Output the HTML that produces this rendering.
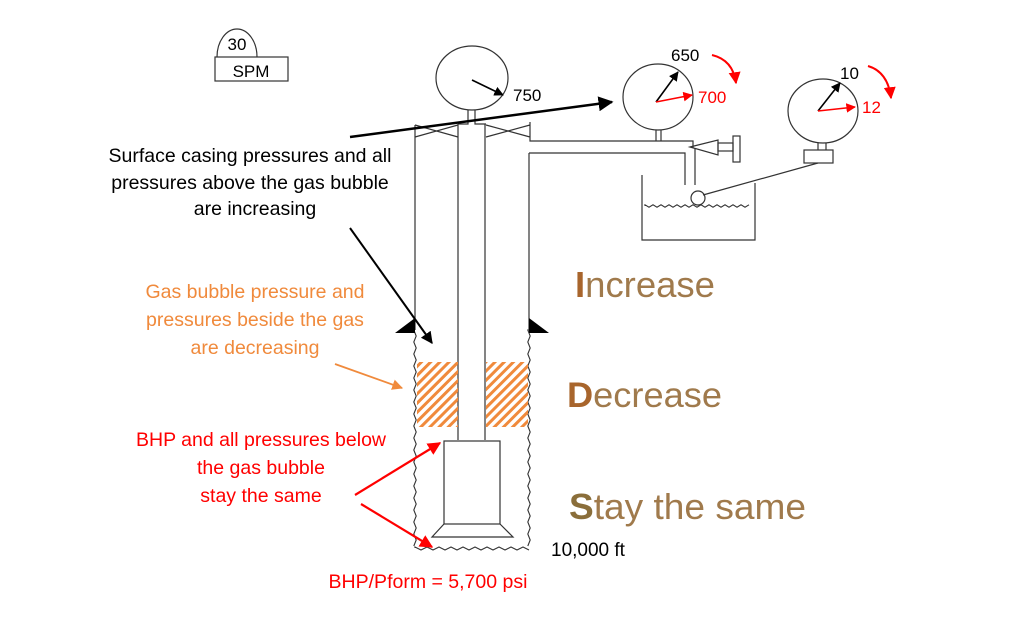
<!DOCTYPE html>
<html><head><meta charset="utf-8"><style>
body{margin:0;background:#fff;width:1020px;height:618px;overflow:hidden}
svg{display:block}
text{font-family:"Liberation Sans",sans-serif}
</style></head><body>
<svg id="s" width="1020" height="618" viewBox="0 0 1020 618" xmlns="http://www.w3.org/2000/svg">
<defs>
<marker id="ab" viewBox="0 0 10 10" refX="9" refY="5" markerWidth="6" markerHeight="6" orient="auto"><path d="M0,0L10,5L0,10z" fill="#000"/></marker>
<marker id="ar" viewBox="0 0 10 10" refX="9" refY="5" markerWidth="6" markerHeight="6" orient="auto"><path d="M0,0L10,5L0,10z" fill="#f00"/></marker>
<marker id="ao" viewBox="0 0 10 10" refX="9" refY="5" markerWidth="6" markerHeight="6" orient="auto"><path d="M0,0L10,5L0,10z" fill="#f08a3c"/></marker>
<pattern id="h" width="6.5" height="6.5" patternUnits="userSpaceOnUse" patternTransform="rotate(45)"><rect width="3" height="6.5" fill="#f08a3c"/></pattern>
</defs>
<g fill="none" stroke="#333" stroke-width="1.2">
<path d="M217,57 A20,28 0 0 1 257,57"/>
<rect x="215" y="57" width="73" height="24"/>
<ellipse cx="472" cy="78" rx="36" ry="32"/>
<path d="M468,110V124H458M475,110V124H486"/>
<path d="M458,124V440M485,124V440"/>
<path d="M415,125V330"/>
<path d="M415,125L458,137M415,137L458,125M486,125L530,137M486,137L530,125M530,122V141H693V148M529,153H685V185M529,153V330M695,148V185"/>
<ellipse cx="658" cy="97" rx="35" ry="33"/>
<path d="M656,130V141M661,130V141"/>
<path d="M690,147L718,140V155Z"/>
<rect x="718" y="143" width="15" height="8"/>
<rect x="733" y="136" width="7" height="26"/>
<path d="M642,175V240H755V183"/>
<circle cx="698" cy="198" r="7"/>
<path d="M703,195L818,163"/>
<ellipse cx="823" cy="111" rx="35" ry="32"/>
<path d="M818,143V150M826,143V150"/>
<rect x="804" y="150" width="29" height="13"/>
<rect x="444" y="441" width="56" height="83"/>
<path d="M444,524L432,537H513L500,524"/>
</g>
<path id="waves" fill="none" stroke="#333" stroke-width="1.1"/>
<rect x="417" y="362" width="41" height="65" fill="url(#h)"/>
<rect x="486" y="362" width="42" height="65" fill="url(#h)"/>
<path d="M395,333L415,318V333Z M529,318L549,333H529Z" fill="#000"/>
<g stroke-width="1.6">
<line x1="472" y1="80" x2="503" y2="95" stroke="#000" marker-end="url(#ab)"/>
<line x1="656" y1="102" x2="678" y2="72" stroke="#000" marker-end="url(#ab)"/>
<line x1="656" y1="102" x2="692" y2="95" stroke="#f00" marker-end="url(#ar)"/>
<line x1="818" y1="111" x2="840" y2="83" stroke="#000" marker-end="url(#ab)"/>
<line x1="818" y1="111" x2="855" y2="107" stroke="#f00" marker-end="url(#ar)"/>
</g>
<path d="M712,55Q733,60 736,83" fill="none" stroke="#f00" stroke-width="2" marker-end="url(#ar)"/>
<path d="M868,66Q888,72 891,98" fill="none" stroke="#f00" stroke-width="2" marker-end="url(#ar)"/>
<line x1="350" y1="137" x2="612" y2="102" stroke="#000" stroke-width="2.5" marker-end="url(#ab)"/>
<line x1="350" y1="228" x2="432" y2="343" stroke="#000" stroke-width="2" marker-end="url(#ab)"/>
<line x1="335" y1="364" x2="402" y2="388" stroke="#f08a3c" stroke-width="1.8" marker-end="url(#ao)"/>
<line x1="355" y1="495" x2="440" y2="443" stroke="#f00" stroke-width="2.2" marker-end="url(#ar)"/>
<line x1="361" y1="504" x2="432" y2="547" stroke="#f00" stroke-width="2.2" marker-end="url(#ar)"/>
<g font-size="17" text-anchor="middle">
<text x="237" y="50">30</text>
<text x="251" y="77">SPM</text>
<g font-size="19.5">
<text x="250" y="162">Surface casing pressures and all</text>
<text x="250" y="189">pressures above the gas bubble</text>
<text x="255" y="215">are increasing</text>
<g fill="#f08a3c">
<text x="255" y="298">Gas bubble pressure  and</text>
<text x="255" y="326">pressures beside the gas</text>
<text x="255" y="354">are decreasing</text>
</g>
<g fill="#f00">
<text x="261" y="446">BHP and all pressures below</text>
<text x="261" y="474">the gas bubble</text>
<text x="261" y="502">stay the same</text>
<text x="428" y="588">BHP/Pform = 5,700 psi</text>
</g>
</g>
</g>
<text x="513" y="101" font-size="17">750</text>
<text x="671" y="61" font-size="17">650</text>
<text x="698" y="103" font-size="17" fill="#f00">700</text>
<text x="840" y="79" font-size="17">10</text>
<text x="862" y="113" font-size="17" fill="#f00">12</text>
<text x="551" y="556" font-size="19">10,000 ft</text>
<g fill="#a07a4c">
<text x="575" y="297" font-size="36" textLength="140" lengthAdjust="spacingAndGlyphs"><tspan fill="#a8652c" font-weight="bold">I</tspan>ncrease</text>
<text x="567" y="407" font-size="35" textLength="155" lengthAdjust="spacingAndGlyphs"><tspan fill="#a8652c" font-weight="bold">D</tspan>ecrease</text>
<text x="569" y="519" font-size="36" textLength="237" lengthAdjust="spacingAndGlyphs"><tspan fill="#8a6e3a" font-weight="bold">S</tspan>tay the same</text>
</g>
</svg>
<script>
var d="";
function v(x,y0,y1){d+="M"+x+","+y0;for(var y=y0,i=0;y<y1;y+=6,i++)d+="L"+(x+(i%2?1.2:-1.2))+","+y;}
v(415,330,548);v(529,330,548);
d+="M415,548";for(var x=415,i=0;x<=529;x+=6,i++)d+="L"+x+","+(548+(i%2?2:-1));
d+="M645,206";for(var x=645,i=0;x<=752;x+=4,i++)d+="L"+x+","+(206+(i%2?1.2:-1.2));
document.getElementById("waves").setAttribute("d",d);
</script>
</body></html>
